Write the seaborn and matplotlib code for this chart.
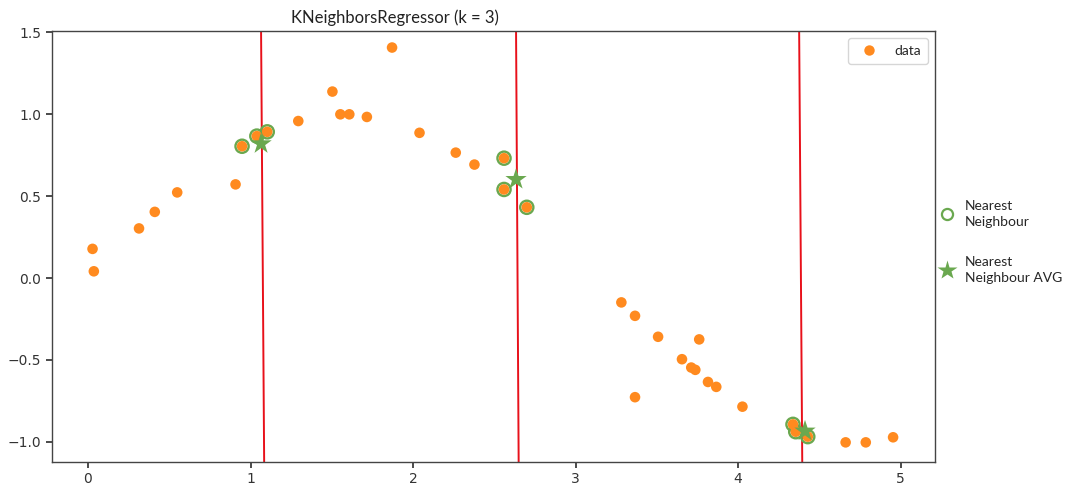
import matplotlib
matplotlib.use("Agg")
import matplotlib.pyplot as plt
import seaborn as sns
import pandas as pd
from matplotlib.lines import Line2D

# ---- data ----
data_x = [0.028, 0.036, 0.314, 0.411, 0.549, 0.908, 0.948, 1.039, 1.103, 1.294,
          1.504, 1.553, 1.608, 1.716, 1.871, 2.040, 2.263, 2.378, 2.560, 2.560,
          2.700, 3.282, 3.366, 3.508, 3.761, 3.655, 3.712, 3.737, 3.815, 3.866,
          3.366, 4.027, 4.338, 4.355, 4.429, 4.662, 4.786, 4.954]
data_y = [0.178, 0.041, 0.303, 0.404, 0.523, 0.572, 0.805, 0.867, 0.893, 0.959,
          1.139, 1.000, 1.000, 0.984, 1.408, 0.887, 0.766, 0.693, 0.732, 0.541,
          0.432, -0.149, -0.231, -0.359, -0.375, -0.496, -0.547, -0.561, -0.635, -0.665,
          -0.728, -0.786, -0.894, -0.939, -0.969, -1.004, -1.004, -0.973]

neigh_x = [0.948, 1.039, 1.103, 2.560, 2.560, 2.700, 4.338, 4.355, 4.429]
neigh_y = [0.805, 0.867, 0.893, 0.732, 0.541, 0.432, -0.894, -0.939, -0.969]

avg_x = [1.065, 2.634, 4.412]
avg_y = [0.820, 0.602, -0.935]

# query lines (x at top, x at bottom)
line_top_x = [1.065, 2.634, 4.376]
line_bot_x = [1.084, 2.650, 4.395]

xlim = (-0.223, 5.21)
ylim = (-1.122, 1.508)

ORANGE = "#ff8a1f"
GREEN = "#6aa84f"
RED = "#e8101a"

sns.set_theme(style="ticks")
plt.rcParams["font.family"] = ["DejaVu Sans"]

fig = plt.figure(figsize=(10.67, 4.87), dpi=100)
ax = fig.add_axes([0.0485, 0.052, 0.8275, 0.884])

df_data = pd.DataFrame({"x": data_x, "y": data_y})
df_neigh = pd.DataFrame({"x": neigh_x, "y": neigh_y})
df_avg = pd.DataFrame({"x": avg_x, "y": avg_y})

for xt, xb in zip(line_top_x, line_bot_x):
    ax.plot([xt, xb], [ylim[1], ylim[0]], color=RED, lw=1.4, zorder=1)

sns.scatterplot(data=df_neigh, x="x", y="y", ax=ax, s=90, facecolors="none",
                edgecolor=GREEN, linewidth=1.7, zorder=2, legend=False)
sns.scatterplot(data=df_data, x="x", y="y", ax=ax, s=58, color=ORANGE,
                edgecolor="none", linewidth=0, zorder=3, legend=False)
sns.scatterplot(data=df_avg, x="x", y="y", ax=ax, s=260, marker="*", color=GREEN,
                edgecolor="none", linewidth=0, zorder=4, legend=False)

ax.set_xlim(*xlim)
ax.set_ylim(*ylim)
ax.set_xlabel("")
ax.set_ylabel("")
ax.set_xticks([0, 1, 2, 3, 4, 5])
ax.set_yticks([-1.0, -0.5, 0.0, 0.5, 1.0, 1.5])
ax.tick_params(labelsize=10, colors="#333333", length=4)
for sp in ax.spines.values():
    sp.set_color("#444444")
    sp.set_linewidth(1.0)

ax.text(0.389, 1.012, "KNeighborsRegressor (k = 3)", transform=ax.transAxes,
        ha="center", va="bottom", fontsize=12, family=["Lato", "DejaVu Sans"],
        color="#222222")

h_data = Line2D([], [], ls="none", marker="o", markersize=7.5,
                markerfacecolor=ORANGE, markeredgecolor="none")
ax.legend([h_data], ["data"], loc="upper right", prop={"family": "Lato", "size": 10},
          frameon=True, handletextpad=0.8, borderpad=0.5)

h_nn = Line2D([], [], ls="none", marker="o", markersize=8,
              markerfacecolor="none", markeredgecolor=GREEN, markeredgewidth=1.6)
h_avg = Line2D([], [], ls="none", marker="*", markersize=15,
               markerfacecolor=GREEN, markeredgecolor="none")
leg2 = fig.legend([h_nn, h_avg], ["Nearest\nNeighbour", "Nearest\nNeighbour AVG"],
                  loc="center left", bbox_to_anchor=(0.868, 0.503), frameon=False,
                  prop={"family": "Lato", "size": 10}, labelspacing=2.0,
                  handletextpad=0.7, handlelength=1.2)
for t in leg2.get_texts():
    t.set_linespacing(1.45)

fig.savefig("out.png", dpi=100)
